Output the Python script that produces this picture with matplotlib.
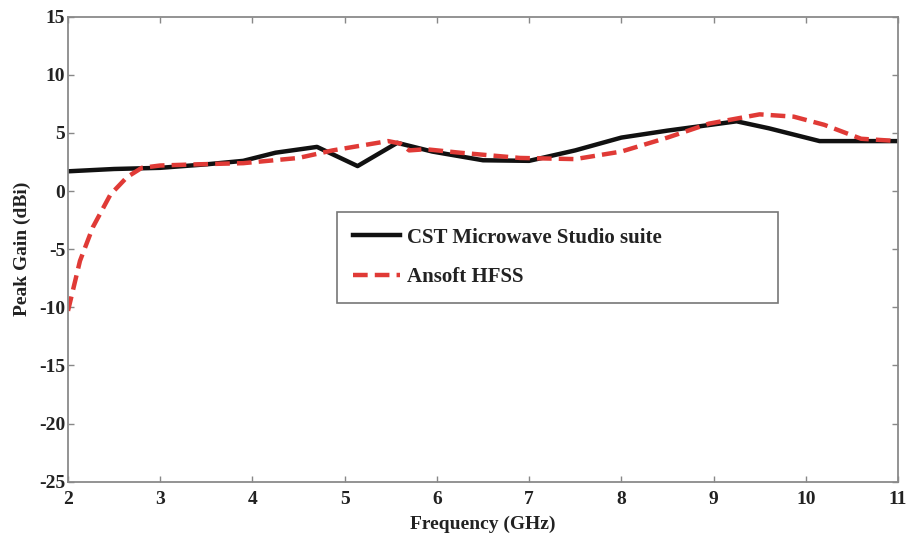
import matplotlib
matplotlib.use("Agg")
import matplotlib.pyplot as plt

# CST Microwave Studio suite
cst_freq = [2.0, 2.5, 3.0, 3.5, 3.9, 4.25, 4.7, 5.14, 5.57, 5.95, 6.5, 7.0, 7.5, 8.0, 8.5, 9.25, 9.6, 10.15, 10.5, 11.0]
cst_gain = [1.7, 1.9, 2.0, 2.3, 2.6, 3.3, 3.8, 2.15, 4.15, 3.4, 2.65, 2.6, 3.5, 4.6, 5.2, 6.0, 5.4, 4.3, 4.3, 4.3]

# Ansoft HFSS
hfss_freq = [2.0, 2.13, 2.27, 2.46, 2.64, 2.8, 3.0, 3.4, 3.9, 4.5, 4.87, 5.47, 5.6, 5.7, 5.88, 6.25, 6.9, 7.5, 8.0, 8.5, 8.95, 9.5, 9.87, 10.2, 10.6, 11.0]
hfss_gain = [-10.3, -6.0, -3.1, -0.3, 1.2, 2.0, 2.2, 2.3, 2.4, 2.85, 3.5, 4.3, 4.1, 3.5, 3.6, 3.3, 2.85, 2.75, 3.4, 4.6, 5.8, 6.6, 6.4, 5.7, 4.5, 4.3]

labels = ["CST Microwave Studio suite", "Ansoft HFSS"]
xticks = [2, 3, 4, 5, 6, 7, 8, 9, 10, 11]
yticks = [-25, -20, -15, -10, -5, 0, 5, 10, 15]

plt.rcParams['font.family'] = ['Liberation Serif', 'DejaVu Serif']
plt.rcParams['font.weight'] = 'bold'
plt.rcParams['axes.unicode_minus'] = False

fig = plt.figure(figsize=(9.07, 5.40), dpi=100)
ax = fig.add_axes([68/907, 1 - 481.7/540, 830/907, 465/540])

ax.plot(cst_freq, cst_gain, color='#111111', lw=3.2, label=labels[0])
ax.plot(hfss_freq, hfss_gain, color='#e03a36', lw=3.2, dashes=(3.3, 1.6), label=labels[1])

ax.set_xlim(2, 11)
ax.set_ylim(-25, 15)
ax.set_xticks(xticks)
ax.set_yticks(yticks)
ax.tick_params(direction='in', length=4, width=1, colors='#888888', labelcolor='#222222',
               labelsize=14, top=True, right=True, pad=2)
ax.tick_params(axis='x', pad=7)
for lab in ax.get_xticklabels() + ax.get_yticklabels():
    lab.set_fontweight('bold')
for s in ax.spines.values():
    s.set_color('#8a8a8a')
    s.set_linewidth(1.3)

ax.set_xlabel('Frequency (GHz)', fontsize=14, fontweight='bold', color='#222222', labelpad=5)
ax.set_ylabel('Peak Gain (dBi)', fontsize=14, fontweight='bold', color='#222222', labelpad=6)

leg = ax.legend(loc='upper left', bbox_to_anchor=(0.324, 0.38, 0.531, 0.2), mode='expand',
                fontsize=15, frameon=True, fancybox=False, edgecolor='#777777', framealpha=1,
                handlelength=2.3, handletextpad=0.3, borderpad=0.75, labelspacing=0.95,
                borderaxespad=0)
leg.get_frame().set_linewidth(1.2)
for t in leg.get_texts():
    t.set_fontweight('bold')
    t.set_color('#222222')

fig.savefig('out.png', dpi=100)
